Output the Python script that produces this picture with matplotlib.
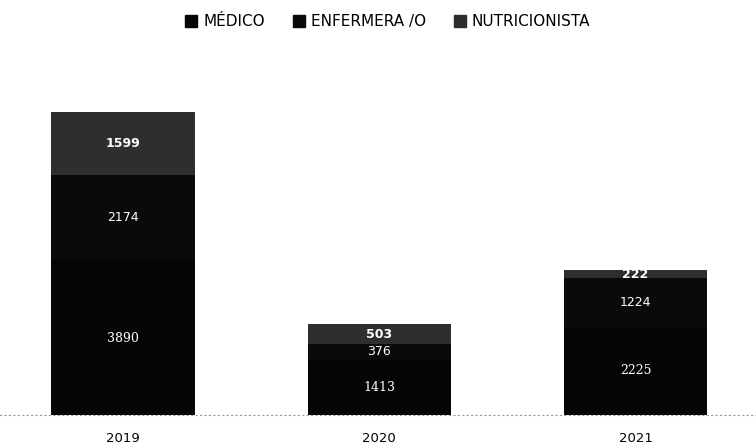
import numpy as np
import matplotlib.pyplot as plt
from matplotlib.patches import Patch

years = ['2019', '2020', '2021']
medico = [3890, 1413, 2225]
enfermera = [2174, 376, 1224]
nutricionista = [1599, 503, 222]

fig = plt.figure(figsize=(7.56, 4.47), dpi=100)
ax = fig.add_axes([0.0, 0.0716, 1.0, 0.797])

x = np.arange(len(years))
w = 0.56
b1 = ax.bar(x, medico, w, color='#050505', label='MÉDICO')
b2 = ax.bar(x, enfermera, w, bottom=medico, color='#0a0a0a', label='ENFERMERA /O')
bottom3 = [m + e for m, e in zip(medico, enfermera)]
b3 = ax.bar(x, nutricionista, w, bottom=bottom3, color='#2e2e2e', label='NUTRICIONISTA')

ax.bar_label(b1, label_type='center', color='white', fontsize=9, family='DejaVu Serif')
ax.bar_label(b2, label_type='center', color='white', fontsize=9)
ax.bar_label(b3, label_type='center', color='white', fontsize=9, fontweight='bold')

ax.set_xlim(-0.48, 2.47)
ax.set_ylim(0, 9000)
ax.set_xticks(x)
ax.set_xticklabels(years, fontsize=9.5)
ax.tick_params(axis='x', length=0, pad=12)
ax.set_yticks([])
for s in ['top', 'right', 'left']:
    ax.spines[s].set_visible(False)
ax.spines['bottom'].set_color('#999999')
ax.spines['bottom'].set_linestyle((0, (1, 3)))
ax.spines['bottom'].set_linewidth(0.8)

# legend along the top
handles = [Patch(color='#050505'), Patch(color='#0a0a0a'), Patch(color='#2e2e2e')]
fig.legend(handles, ['MÉDICO', 'ENFERMERA /O', 'NUTRICIONISTA'], loc='center',
           bbox_to_anchor=(0.513, 0.951), ncol=3, frameon=False, fontsize=11,
           handlelength=0.8, handleheight=0.8, handletextpad=0.4, columnspacing=1.8)

fig.savefig('out.png', dpi=100)
